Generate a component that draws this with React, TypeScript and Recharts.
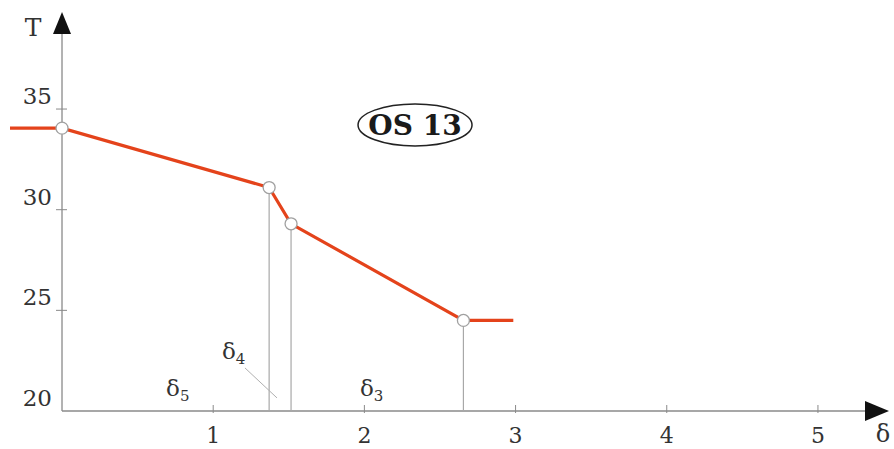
import React from 'react';
import { LineChart, Line, XAxis, YAxis, ReferenceLine, ReferenceDot } from 'recharts';

// ---- data ----
const deltaValues = [-0.344, 0, 1.37, 1.515, 2.655, 2.985];
const tValues = [34.05, 34.05, 31.1, 29.3, 24.5, 24.5];
const markedPointIndices = [1, 2, 3, 4];
const dropLineIndices = [2, 3, 4];
const xTicks = [1, 2, 3, 4, 5];
const yTicks = [20, 25, 30, 35];
const xDomain: [number, number] = [-0.344, 5.47];
const yDomain: [number, number] = [20, 39.82];
const zoneSubscripts = ['5', '4', '3'];
const zoneDeltas = [0.688, 1.058, 1.971];
const zoneTs = [20.745, 22.58, 20.745];
const leaderDeltas = [1.21, 1.422];
const leaderTs = [22.14, 20.65];
const badgeText = 'OS 13';
const badgeDelta = 2.335;
const badgeT = 34.21;
const yAxisTitle = 'T';
const xAxisTitle = 'δ';

const data = deltaValues.map((d, i) => ({ delta: d, T: tValues[i] }));

const FONT = '"DejaVu Serif", "Liberation Serif", serif';
const RED = '#e4431b';
const AXIS = '#8a8a8a';
const TEXT = '#333';

const XTick = (props: any) => {
  const { x, y, payload } = props;
  return (
    <g>
      <line x1={x} y1={y - 6} x2={x} y2={y + 2} stroke={AXIS} strokeWidth={1} />
      <text x={x} y={y + 32} textAnchor="middle" fontFamily={FONT} fontSize={22} fill={TEXT}>
        {payload.value}
      </text>
    </g>
  );
};

const yTickShape = (v: number) => (p: any) => (
  <g>
    {v !== yDomain[0] && (
      <line x1={p.cx - 6} y1={p.cy} x2={p.cx + 5} y2={p.cy} stroke={AXIS} strokeWidth={1} />
    )}
    <text x={p.cx - 10} y={p.cy - 5} textAnchor="end" fontFamily={FONT} fontSize={23} fill={TEXT}>
      {v}
    </text>
  </g>
);

const yAxisShape = (p: any) => (
  <g>
    <line x1={p.x1} y1={p.y1} x2={p.x2} y2={p.y2 + 10} stroke={AXIS} strokeWidth={1.3} />
    <polygon points={`${p.x2},${p.y2} ${p.x2 - 9},${p.y2 + 22} ${p.x2 + 9},${p.y2 + 22}`} fill="#111" />
    <text x={p.x2 - 29} y={p.y2 + 24} textAnchor="middle" fontFamily={FONT} fontSize={25} fill={TEXT}>
      {yAxisTitle}
    </text>
  </g>
);

const xAxisShape = (p: any) => (
  <g>
    <line x1={p.x1} y1={p.y1} x2={p.x2 - 10} y2={p.y2} stroke={AXIS} strokeWidth={1.3} />
    <polygon points={`${p.x2},${p.y2} ${p.x2 - 24},${p.y2 - 10} ${p.x2 - 24},${p.y2 + 10}`} fill="#111" />
    <text x={p.x2 - 6} y={p.y2 + 31} textAnchor="middle" fontFamily={FONT} fontSize={24} fill={TEXT}>
      {xAxisTitle}
    </text>
  </g>
);

const zoneShape = (sub: string) => (p: any) => (
  <text x={p.cx} y={p.cy} textAnchor="start" fontFamily={FONT} fontSize={23} fill={TEXT}>
    δ
    <tspan fontSize={15} dy={5}>
      {sub}
    </tspan>
  </text>
);

const badgeShape = (p: any) => (
  <g>
    <ellipse cx={p.cx} cy={p.cy} rx={57} ry={21} fill="#fff" stroke="#222" strokeWidth={1.5} />
    <text x={p.cx} y={p.cy + 10} textAnchor="middle" fontFamily={FONT} fontWeight="bold" fontSize={28} fill="#1a1a1a">
      {badgeText}
    </text>
  </g>
);

const renderDot = (props: any) => {
  const { cx, cy, index } = props;
  if (!markedPointIndices.includes(index)) return <g key={`d${index}`} />;
  return <circle key={`d${index}`} cx={cx} cy={cy} r={6} fill="#fff" stroke="#a0a0a0" strokeWidth={1.3} />;
};

export default function App() {
  return (
    <div style={{ position: 'absolute', left: 0, top: 0, background: '#fff' }}>
      <LineChart width={894} height={449} data={data} margin={{ top: 12, right: 5, left: 10, bottom: 0 }}>
        <XAxis
          dataKey="delta"
          type="number"
          domain={xDomain}
          ticks={xTicks}
          interval={0}
          axisLine={false}
          tickLine={false}
          tickSize={0}
          tickMargin={0}
          height={38}
          tick={<XTick />}
          allowDataOverflow
        />
        <YAxis type="number" domain={yDomain} hide width={0} allowDataOverflow />
        <ReferenceLine segment={[{ x: 0, y: yDomain[0] }, { x: xDomain[1], y: yDomain[0] }]} shape={xAxisShape} ifOverflow="visible" />
        <ReferenceLine segment={[{ x: 0, y: yDomain[0] }, { x: 0, y: yDomain[1] }]} shape={yAxisShape} ifOverflow="visible" />
        {dropLineIndices.map((i) => (
          <ReferenceLine
            key={`drop${i}`}
            segment={[{ x: deltaValues[i], y: yDomain[0] }, { x: deltaValues[i], y: tValues[i] }]}
            stroke="#a8a8a8"
            strokeWidth={1.2}
            ifOverflow="visible"
          />
        ))}
        <ReferenceLine
          segment={[{ x: leaderDeltas[0], y: leaderTs[0] }, { x: leaderDeltas[1], y: leaderTs[1] }]}
          stroke="#b0b0b0"
          strokeWidth={1}
          ifOverflow="visible"
        />
        {yTicks.map((v) => (
          <ReferenceDot key={`yt${v}`} x={0} y={v} r={0} shape={yTickShape(v)} ifOverflow="visible" />
        ))}
        {zoneSubscripts.map((s, i) => (
          <ReferenceDot key={`z${s}`} x={zoneDeltas[i]} y={zoneTs[i]} r={0} shape={zoneShape(s)} ifOverflow="visible" />
        ))}
        <ReferenceDot x={badgeDelta} y={badgeT} r={0} shape={badgeShape} ifOverflow="visible" />
        <Line
          type="linear"
          dataKey="T"
          stroke={RED}
          strokeWidth={3.2}
          dot={renderDot}
          activeDot={false}
          isAnimationActive={false}
        />
      </LineChart>
    </div>
  );
}
